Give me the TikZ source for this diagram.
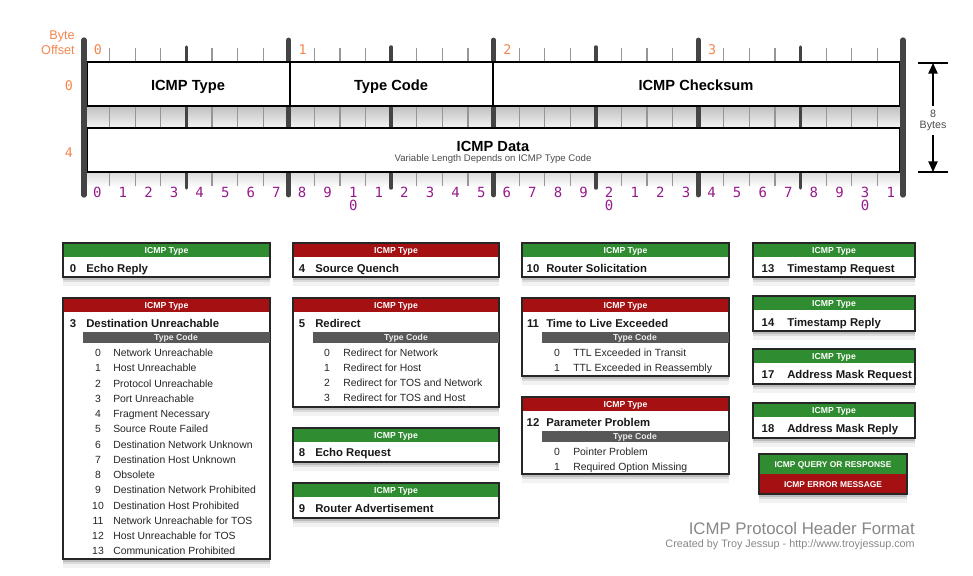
\documentclass[tikz,border=0pt]{standalone}
\usepackage{fontspec}
\setmainfont{Liberation Sans}
\newfontfamily\bitfont{DejaVu Sans Mono}
\usetikzlibrary{arrows.meta,shadows}

\definecolor{offsetorange}{RGB}{243,134,79}
\definecolor{bitpurple}{RGB}{150,25,140}
\definecolor{querygreen}{RGB}{48,140,48}
\definecolor{errorred}{RGB}{165,16,18}
\definecolor{codegray}{RGB}{88,88,88}
\definecolor{tickgray}{RGB}{150,150,150}
\definecolor{bargray}{RGB}{68,68,68}
\definecolor{footgray}{RGB}{135,135,135}

% card with coloured "ICMP Type" band: name, left, top, right, bottom, colour
\newcommand{\typecard}[6]{%
  \path[cardbg] (#2,#3) rectangle (#4,#5);
  \fill[#6] (#2,#3) rectangle (#4,#3+14);
  \draw[cardline] (#2,#3) rectangle (#4,#5);
  \node[hdr] (#1) at ({(#2+#4)/2},#3+7) {ICMP Type};
}

\begin{document}
\begin{tikzpicture}[
  x=0.75pt,y=-0.75pt,
  field/.style={draw=black,line width=1.5pt,fill=white},
  fieldname/.style={font=\bfseries\fontsize{11}{13}\selectfont,text height=7.9pt,text depth=0pt,inner sep=0pt},
  offset/.style={text=offsetorange,font=\bitfont\fontsize{10}{12}\selectfont,text height=7.3pt,text depth=0pt,inner sep=0pt},
  bitnum/.style={text=bitpurple,font=\bitfont\fontsize{10.5}{12}\selectfont,text height=7.6pt,text depth=0pt,inner sep=0pt},
  thintick/.style={draw=tickgray,line width=0.9pt},
  nibtick/.style={draw=bargray,line width=2.6pt,line cap=round},
  bytebar/.style={draw=bargray,line width=3.6pt,line cap=round},
  cardbg/.style={fill=white,
    drop shadow={shadow xshift=0pt,shadow yshift=-2pt,opacity=.35},
    drop shadow={shadow xshift=0pt,shadow yshift=-4pt,opacity=.2},
    drop shadow={shadow xshift=0pt,shadow yshift=-6.5pt,opacity=.1}},
  cardline/.style={draw=black!85,line width=0.9pt},
  hdr/.style={font=\bfseries\fontsize{6.5}{7}\selectfont,text=white,text height=4.7pt,text depth=0pt,inner sep=0pt},
  title/.style={font=\bfseries\fontsize{8.5}{10}\selectfont,text=black!90,text height=6.1pt,text depth=0pt,inner sep=0pt},
  codebar/.style={fill=codegray},
  codehdr/.style={font=\bfseries\fontsize{6.5}{7}\selectfont,text=black!8,text height=4.7pt,text depth=0pt,inner sep=0pt},
  code/.style={font=\fontsize{7.8}{9}\selectfont,text=black!85,text height=5.6pt,text depth=0pt,inner sep=0pt},
  legend/.style={font=\bfseries\fontsize{6.3}{7}\selectfont,text=white,text height=4.5pt,text depth=0pt,inner sep=0pt}
]
\useasboundingbox (0,0) rectangle (973,575);

% ---- header ruler
\shade[top color=gray!50,bottom color=gray!8] (84,106) rectangle (903,128);
\shade[top color=gray!30,bottom color=white] (84,172) rectangle (903,187);
\foreach \i in {1,...,31}
  \draw[thintick] (84+25.594*\i,48) -- (84+25.594*\i,186);
\foreach \i in {4,12,20,28}
  \draw[nibtick] (84+25.594*\i,47) -- (84+25.594*\i,188);
\foreach \i in {8,16,24}
  \draw[bytebar] (84+25.594*\i,40) -- (84+25.594*\i,195);

\draw[field] (86.5,62) rectangle (290,106);
\draw[field] (290,62) rectangle (493,106);
\draw[field] (493,62) rectangle (899.5,106);
\draw[field] (86.5,128) rectangle (899.5,172);
\draw[bytebar,line width=4pt] (84,40) -- (84,195);
\draw[bytebar,line width=4pt] (903,40) -- (903,195);

\node[fieldname] (type) at (188,85) {ICMP Type};
\node[fieldname] (code) at (391,85) {Type Code};
\node[fieldname] (checksum) at (696,85) {ICMP Checksum};
\node[fieldname] (data) at (493,146) {ICMP Data};
\node[inner sep=0pt,text=black!70,font=\fontsize{7.2}{8}\selectfont] (datanote) at (493,159) {Variable Length Depends on ICMP Type Code};

% offsets
\node[anchor=east,align=right,inner sep=0pt,text=offsetorange,font=\fontsize{9.5}{11.25}\selectfont] (byteoff) at (75,42.5) {Byte\\Offset};
\node[offset] (off0) at (69,86) {0};
\node[offset] (off4) at (69,153) {4};
\foreach \b in {0,...,3}
  \node[offset] (byte\b) at (98+204.75*\b,50) {\b};

% bit numbers
\foreach \i in {0,...,31}{
  \pgfmathtruncatemacro\bitu{mod(\i,10)}
  \pgfmathtruncatemacro\bitlbl{(\bitu==0 && \i>0) ? \i/10 : \bitu}
  \node[bitnum] (bit\i) at (97.3+25.594*\i,192) {\bitlbl};
  \ifnum\bitu=0 \ifnum\i>0
    \node[bitnum] (bitz\i) at (97.3+25.594*\i,205) {0};
  \fi\fi
}

% size marker
\coordinate (sztop) at (933,63);
\coordinate (szbot) at (933,172);
\draw[line width=1.1pt] (918,63) -- (948,63);
\draw[line width=1.1pt] (918,172) -- (948,172);
\node[align=center,inner sep=3pt,text=black!70,font=\fontsize{8}{8.25}\selectfont] (bytes) at (933,120.5) {8\\Bytes};
\draw[line width=1.1pt,-{Triangle[length=8pt,width=7pt]}] (bytes.north) -- (sztop);
\draw[line width=1.1pt,-{Triangle[length=8pt,width=7pt]}] (bytes.south) -- (szbot);

% ---- column 1
\typecard{er}{63}{243}{270}{277}{querygreen}
\node[title] (ern) at (73,268) {0};
\node[title,anchor=west] (ert) at (86,268) {Echo Reply};

\typecard{du}{63}{298}{270}{559}{errorred}
\node[title] (dun) at (73,323) {3};
\node[title,anchor=west] (dut) at (86,323) {Destination Unreachable};
\fill[codebar] (83,332) rectangle (269.5,343);
\node[codehdr] (ducode) at (176,337.5) {Type Code};
\foreach \cn/\ct [count=\k from 0] in {0/Network Unreachable, 1/Host Unreachable,
  2/Protocol Unreachable, 3/Port Unreachable, 4/Fragment Necessary,
  5/Source Route Failed, 6/Destination Network Unknown, 7/Destination Host Unknown,
  8/Obsolete, 9/Destination Network Prohibited, 10/Destination Host Prohibited,
  11/Network Unreachable for TOS, 12/Host Unreachable for TOS,
  13/Communication Prohibited}{
  \node[code] (dun\k) at (98,353+15.23*\k) {\cn};
  \node[code,anchor=west] (dut\k) at (113,353+15.23*\k) {\ct};
}

% ---- column 2
\typecard{sq}{293}{243}{499}{277}{errorred}
\node[title] (sqn) at (302,268) {4};
\node[title,anchor=west] (sqt) at (315,268) {Source Quench};

\typecard{rd}{293}{298}{499}{407}{errorred}
\node[title] (rdn) at (302,323) {5};
\node[title,anchor=west] (rdt) at (315,323) {Redirect};
\fill[codebar] (313,332) rectangle (498.5,343);
\node[codehdr] (rdcode) at (406,337.5) {Type Code};
\foreach \cn/\ct [count=\k from 0] in {0/Redirect for Network, 1/Redirect for Host,
  2/Redirect for TOS and Network, 3/Redirect for TOS and Host}{
  \node[code] (rdn\k) at (327,353+15*\k) {\cn};
  \node[code,anchor=west] (rdt\k) at (343,353+15*\k) {\ct};
}

\typecard{eq}{293}{428}{499}{462}{querygreen}
\node[title] (eqn) at (302,452) {8};
\node[title,anchor=west] (eqt) at (315,452) {Echo Request};

\typecard{ra}{293}{483}{499}{518}{querygreen}
\node[title] (ran) at (302,508) {9};
\node[title,anchor=west] (rat) at (315,508) {Router Advertisement};

% ---- column 3
\typecard{rs}{522}{243}{729}{277}{querygreen}
\node[title] (rsn) at (533,268) {10};
\node[title,anchor=west] (rst) at (546,268) {Router Solicitation};

\typecard{tl}{522}{298}{729}{376}{errorred}
\node[title] (tln) at (533,323) {11};
\node[title,anchor=west] (tlt) at (546,323) {Time to Live Exceeded};
\fill[codebar] (542,332) rectangle (728.5,343);
\node[codehdr] (tlcode) at (635,337.5) {Type Code};
\foreach \cn/\ct [count=\k from 0] in {0/TTL Exceeded in Transit, 1/TTL Exceeded in Reassembly}{
  \node[code] (tln\k) at (557,353+15*\k) {\cn};
  \node[code,anchor=west] (tlt\k) at (573,353+15*\k) {\ct};
}

\typecard{pp}{522}{397}{729}{474}{errorred}
\node[title] (ppn) at (533,422) {12};
\node[title,anchor=west] (ppt) at (546,422) {Parameter Problem};
\fill[codebar] (542,431) rectangle (728.5,442);
\node[codehdr] (ppcode) at (635,436.5) {Type Code};
\foreach \cn/\ct [count=\k from 0] in {0/Pointer Problem, 1/Required Option Missing}{
  \node[code] (ppn\k) at (557,452+14.5*\k) {\cn};
  \node[code,anchor=west] (ppt\k) at (573,452+14.5*\k) {\ct};
}

% ---- column 4
\typecard{ts}{753}{243}{915}{277}{querygreen}
\node[title] (tsn) at (768,268) {13};
\node[title,anchor=west] (tst) at (787,268) {Timestamp Request};

\typecard{tr}{753}{296}{915}{331}{querygreen}
\node[title] (trn) at (768,322) {14};
\node[title,anchor=west] (trt) at (787,322) {Timestamp Reply};

\typecard{amq}{753}{349}{915}{384}{querygreen}
\node[title] (amqn) at (768,374) {17};
\node[title,anchor=west] (amqt) at (787,374) {Address Mask Request};

\typecard{amr}{753}{403}{915}{438}{querygreen}
\node[title] (amrn) at (768,428) {18};
\node[title,anchor=west] (amrt) at (787,428) {Address Mask Reply};

% legend
\path[cardbg] (759,454) rectangle (907,494);
\fill[querygreen] (759,454) rectangle (907,474);
\fill[errorred] (759,474) rectangle (907,494);
\draw[cardline] (759,454) rectangle (907,494);
\node[legend] (query) at (833,464) {ICMP QUERY OR RESPONSE};
\node[legend] (error) at (833,484) {ICMP ERROR MESSAGE};

% footer
\node[anchor=east,inner sep=0pt,text=footgray,font=\fontsize{12.6}{14}\selectfont,text height=9pt,text depth=0pt] (foottitle) at (915,528) {ICMP Protocol Header Format};
\node[anchor=east,inner sep=0pt,text=footgray,font=\fontsize{8.1}{9}\selectfont,text height=5.8pt,text depth=0pt] (footcredit) at (915,544) {Created by Troy Jessup - http://www.troyjessup.com};
\end{tikzpicture}
\end{document}
